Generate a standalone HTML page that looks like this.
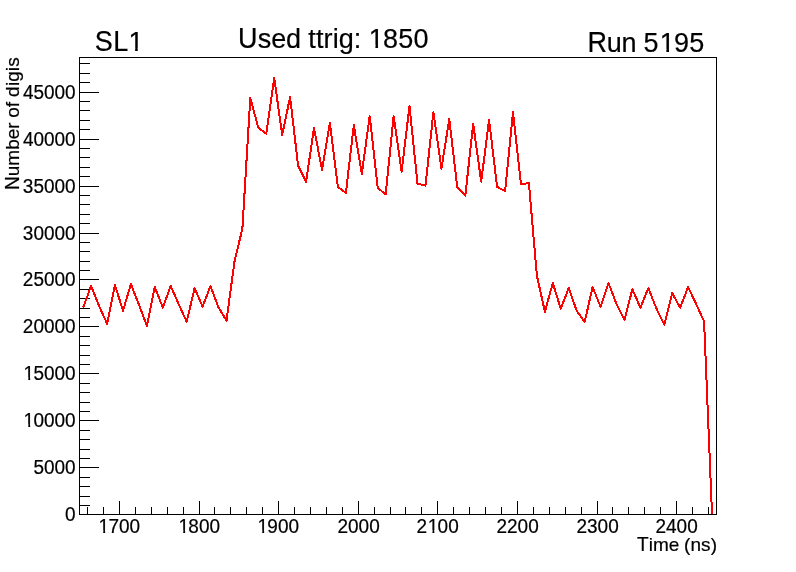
<!DOCTYPE html>
<html><head><meta charset="utf-8"><title>SL1 - Used ttrig: 1850 - Run 5195</title><style>
html,body{margin:0;padding:0;background:#fff;}
body{width:796px;height:572px;overflow:hidden;}
svg{display:block;will-change:transform;}
text{font-family:"Liberation Sans",sans-serif;fill:#000;font-kerning:none;stroke:#000;stroke-width:0.2px;}
</style></head><body>
<svg width="796" height="572" viewBox="0 0 796 572">
<rect x="0" y="0" width="796" height="572" fill="#fff"/>
<path d="M79.5 57.5H716.5V514.5H79.5Z" fill="none" stroke="#000" stroke-width="1" stroke-linecap="square" shape-rendering="crispEdges"/>
<path d="M87.5 514.5V507.0M103.5 514.5V507.0M119.5 514.5V501.0M135.5 514.5V507.0M151.5 514.5V507.0M167.5 514.5V507.0M183.5 514.5V507.0M199.5 514.5V501.0M214.5 514.5V507.0M230.5 514.5V507.0M246.5 514.5V507.0M262.5 514.5V507.0M278.5 514.5V501.0M294.5 514.5V507.0M310.5 514.5V507.0M326.5 514.5V507.0M342.5 514.5V507.0M358.5 514.5V501.0M374.5 514.5V507.0M390.5 514.5V507.0M405.5 514.5V507.0M421.5 514.5V507.0M437.5 514.5V501.0M453.5 514.5V507.0M469.5 514.5V507.0M485.5 514.5V507.0M501.5 514.5V507.0M517.5 514.5V501.0M533.5 514.5V507.0M549.5 514.5V507.0M565.5 514.5V507.0M581.5 514.5V507.0M597.5 514.5V501.0M612.5 514.5V507.0M628.5 514.5V507.0M644.5 514.5V507.0M660.5 514.5V507.0M676.5 514.5V501.0M692.5 514.5V507.0M708.5 514.5V507.0M79.5 505.5H90.0M79.5 496.5H90.0M79.5 486.5H90.0M79.5 477.5H90.0M79.5 467.5H99.0M79.5 458.5H90.0M79.5 449.5H90.0M79.5 439.5H90.0M79.5 430.5H90.0M79.5 420.5H99.0M79.5 411.5H90.0M79.5 402.5H90.0M79.5 392.5H90.0M79.5 383.5H90.0M79.5 373.5H99.0M79.5 364.5H90.0M79.5 355.5H90.0M79.5 345.5H90.0M79.5 336.5H90.0M79.5 326.5H99.0M79.5 317.5H90.0M79.5 308.5H90.0M79.5 298.5H90.0M79.5 289.5H90.0M79.5 279.5H99.0M79.5 270.5H90.0M79.5 261.5H90.0M79.5 251.5H90.0M79.5 242.5H90.0M79.5 233.5H99.0M79.5 223.5H90.0M79.5 214.5H90.0M79.5 204.5H90.0M79.5 195.5H90.0M79.5 186.5H99.0M79.5 176.5H90.0M79.5 167.5H90.0M79.5 157.5H90.0M79.5 148.5H90.0M79.5 139.5H99.0M79.5 129.5H90.0M79.5 120.5H90.0M79.5 110.5H90.0M79.5 101.5H90.0M79.5 92.5H99.0M79.5 82.5H90.0M79.5 73.5H90.0M79.5 63.5H90.0" fill="none" stroke="#000" stroke-width="1" shape-rendering="crispEdges"/>
<polyline points="83.2,307.4 91.1,286.0 99.1,305.9 107.1,323.8 115.0,285.1 123.0,310.8 130.9,284.1 138.9,304.6 146.9,325.8 154.8,287.0 162.8,307.6 170.7,286.0 178.7,304.2 186.7,321.7 194.6,288.1 202.6,306.6 210.5,286.0 218.5,307.3 226.5,320.8 234.4,262.0 242.4,228.5 250.3,98.0 258.3,127.7 266.3,133.6 274.2,78.0 282.2,134.8 290.1,97.0 298.1,165.5 306.1,181.8 314.0,128.0 322.0,169.8 329.9,123.1 337.9,187.0 345.9,192.9 353.8,125.1 361.8,173.9 369.7,116.1 377.7,188.0 385.7,194.3 393.6,116.0 401.6,171.6 409.5,106.1 417.5,183.7 425.5,185.6 433.4,112.1 441.4,168.7 449.3,119.1 457.3,187.6 465.3,195.6 473.2,124.0 481.2,181.6 489.1,120.0 497.1,186.8 505.1,191.2 513.0,112.1 521.0,184.1 528.9,183.1 536.9,275.8 544.9,311.8 552.8,283.0 560.8,308.8 568.7,288.0 576.7,310.8 584.7,321.9 592.6,287.0 600.6,306.9 608.5,283.0 616.5,304.0 624.5,319.7 632.4,289.2 640.4,307.7 648.3,288.1 656.3,308.2 664.3,324.8 672.2,293.1 680.2,307.7 688.1,287.1 696.1,303.8 704.1,321.6 712.0,514.0" fill="none" stroke="#ff0000" stroke-width="2" stroke-linejoin="round" shape-rendering="crispEdges"/>
<text transform="translate(0 520.80) scale(1 1.035)" x="65.11" font-size="19">0</text>
<text transform="translate(0 473.80) scale(1 1.035)" x="33.42 43.98 54.54 65.11" font-size="19">5000</text>
<text transform="translate(0 426.80) scale(1 1.035)" x="23.62 33.42 43.98 54.54 65.11" font-size="19">10000</text>
<text transform="translate(0 379.80) scale(1 1.035)" x="23.62 33.42 43.98 54.54 65.11" font-size="19">15000</text>
<text transform="translate(0 332.80) scale(1 1.035)" x="22.81 33.42 43.98 54.54 65.11" font-size="19">20000</text>
<text transform="translate(0 285.80) scale(1 1.035)" x="22.81 33.42 43.98 54.54 65.11" font-size="19">25000</text>
<text transform="translate(0 239.80) scale(1 1.035)" x="22.79 33.42 43.98 54.54 65.11" font-size="19">30000</text>
<text transform="translate(0 192.80) scale(1 1.035)" x="22.79 33.42 43.98 54.54 65.11" font-size="19">35000</text>
<text transform="translate(0 145.80) scale(1 1.035)" x="22.89 33.42 43.98 54.54 65.11" font-size="19">40000</text>
<text transform="translate(0 98.80) scale(1 1.035)" x="22.89 33.42 43.98 54.54 65.11" font-size="19">45000</text>
<text transform="translate(0 532.60) scale(1 1.035)" x="98.58 108.52 118.94 129.50" font-size="19">1700</text>
<text transform="translate(0 532.60) scale(1 1.035)" x="178.58 188.37 198.94 209.50" font-size="19">1800</text>
<text transform="translate(0 532.60) scale(1 1.035)" x="257.58 267.35 277.94 288.50" font-size="19">1900</text>
<text transform="translate(0 532.60) scale(1 1.035)" x="337.41 348.02 358.58 369.15" font-size="19">2000</text>
<text transform="translate(0 532.60) scale(1 1.035)" x="416.41 427.79 437.58 448.15" font-size="19">2100</text>
<text transform="translate(0 532.60) scale(1 1.035)" x="496.41 506.97 517.58 528.15" font-size="19">2200</text>
<text transform="translate(0 532.60) scale(1 1.035)" x="576.41 586.96 597.58 608.15" font-size="19">2300</text>
<text transform="translate(0 532.60) scale(1 1.035)" x="655.41 666.06 676.58 687.15" font-size="19">2400</text>
<text transform="translate(0 550.90) scale(1 1.060)" x="636.94" font-size="19">T</text>
<text transform="translate(0 550.90) scale(1 1.000)" x="648.85 653.12 668.81 676.60 683.91 690.44 701.05 710.71" font-size="19">ime (ns)</text>
<text transform="translate(0 50.80) scale(1 1.065)" x="94.88 113.28" font-size="27">SL</text>
<text transform="translate(0 50.80) scale(1 1.020)" x="128.46" font-size="27">1</text>
<text transform="translate(0 47.90) scale(1 1.065)" x="238.08" font-size="27">U</text>
<text transform="translate(0 47.90) scale(1 1.000)" x="257.87 271.13 286.01 297.56 308.18 315.88 323.53 332.69 338.77 353.83 357.07" font-size="27">sed ttrig: </text>
<text transform="translate(0 47.90) scale(1 1.020)" x="368.75 383.04 398.33 413.62" font-size="27">1850</text>
<text transform="translate(0 52.00) scale(1 1.065)" x="587.48" font-size="27">R</text>
<text transform="translate(0 52.00) scale(1 1.000)" x="606.84 621.57 632.73" font-size="27">un </text>
<text transform="translate(0 52.00) scale(1 1.020)" x="643.41 659.70 673.96 689.28" font-size="27">5195</text>
<g transform="translate(18.9 0) rotate(-90)">
<text transform="translate(0 0.00) scale(1 1.060)" x="-190.08" font-size="19">N</text>
<text transform="translate(0 0.00) scale(1 1.000)" x="-176.21 -165.79 -149.79 -139.27 -128.87 -125.04 -117.67 -107.28 -104.42 -96.88 -86.12 -81.83 -71.16 -66.73" font-size="19">umber of digis</text>
</g>
<g fill="#fff">
<rect x="24.18" y="424.33" width="4.10" height="3.47"/>
<rect x="30.20" y="424.33" width="3.66" height="3.47"/>
<rect x="24.18" y="377.33" width="4.10" height="3.47"/>
<rect x="30.20" y="377.33" width="3.66" height="3.47"/>
<rect x="99.13" y="530.13" width="4.10" height="3.47"/>
<rect x="105.16" y="530.13" width="3.66" height="3.47"/>
<rect x="179.13" y="530.13" width="4.10" height="3.47"/>
<rect x="185.16" y="530.13" width="3.66" height="3.47"/>
<rect x="258.13" y="530.13" width="4.10" height="3.47"/>
<rect x="264.16" y="530.13" width="3.66" height="3.47"/>
<rect x="428.34" y="530.13" width="4.10" height="3.47"/>
<rect x="434.37" y="530.13" width="3.66" height="3.47"/>
<rect x="129.25" y="47.74" width="5.88" height="4.06"/>
<rect x="137.75" y="47.74" width="5.19" height="4.06"/>
<rect x="369.54" y="44.84" width="5.88" height="4.06"/>
<rect x="378.04" y="44.84" width="5.19" height="4.06"/>
<rect x="660.49" y="48.94" width="5.88" height="4.06"/>
<rect x="668.99" y="48.94" width="5.19" height="4.06"/>
</g>
</svg>
</body></html>
